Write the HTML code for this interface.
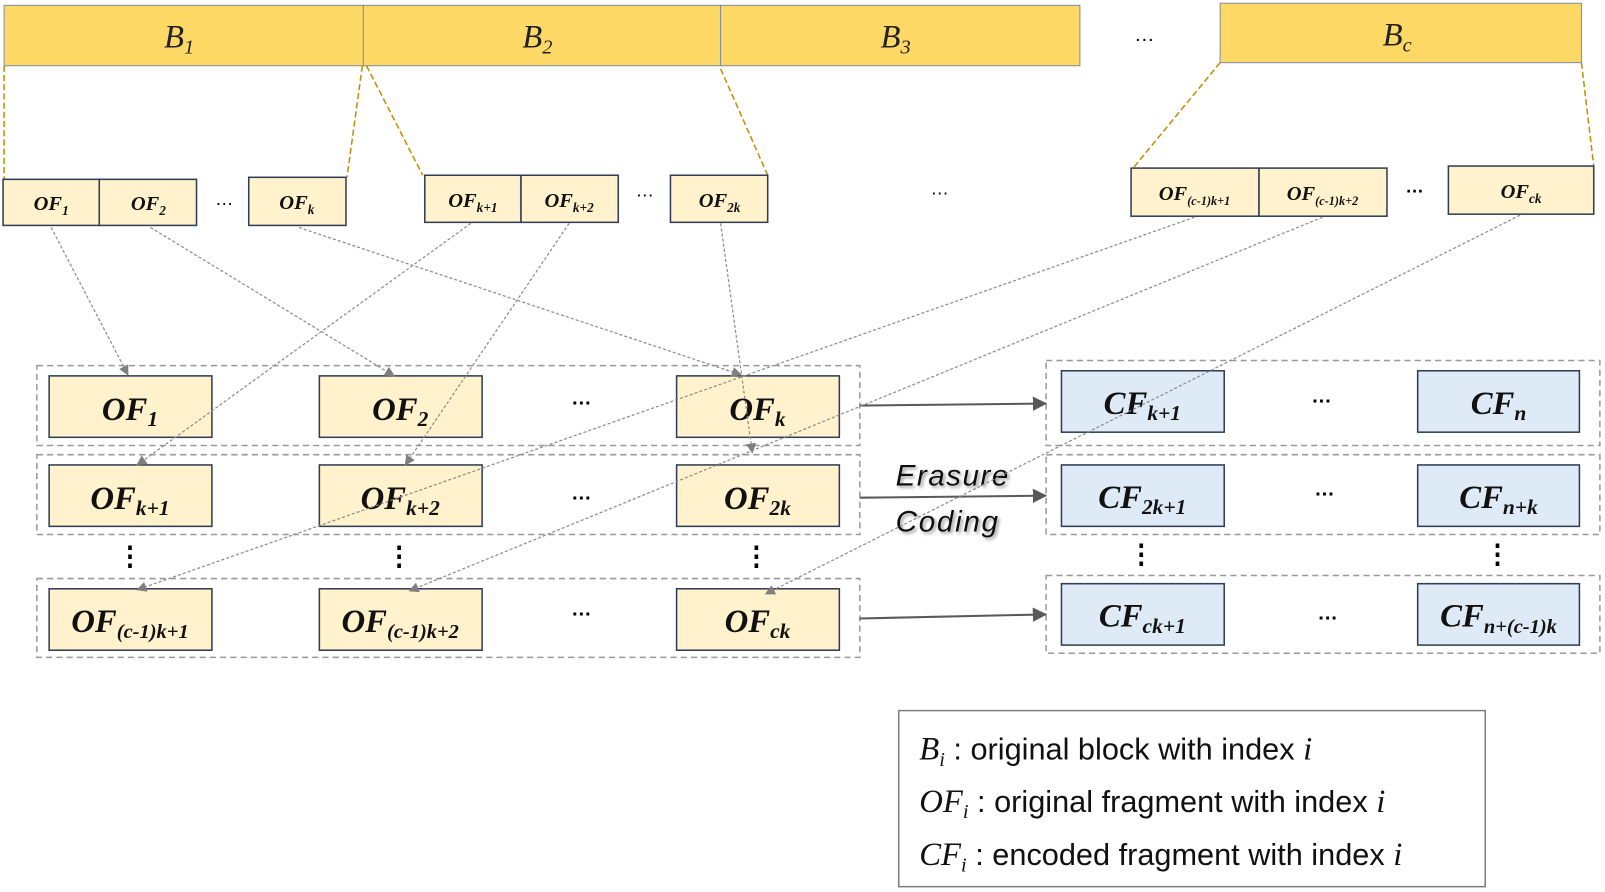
<!DOCTYPE html>
<html><head><meta charset="utf-8"><style>
html,body{margin:0;padding:0;background:#fff}
svg{display:block}
.b{font-family:"Liberation Serif",serif;font-style:italic}
.s{font-family:"Liberation Serif",serif;font-style:italic;font-weight:bold}
.l{font-family:"Liberation Sans",sans-serif}
</style></head><body>
<svg width="1605" height="892" viewBox="0 0 1568 871" xmlns="http://www.w3.org/2000/svg">
<defs>
<marker id="ag" markerWidth="10" markerHeight="10" refX="9" refY="5" orient="auto" markerUnits="userSpaceOnUse"><path d="M0,0 L10,5 L0,10 z" fill="#7f7f7f"/></marker>
<marker id="ad" markerWidth="14" markerHeight="14" refX="13" refY="7" orient="auto" markerUnits="userSpaceOnUse"><path d="M0,0 L14,7 L0,14 z" fill="#595959"/></marker>
<filter id="sh"><feDropShadow dx="2" dy="2" stdDeviation="1.5" flood-color="#999"/></filter>
</defs>
<g fill="#FFD966" stroke="#7f8ea3" stroke-width="1">
<rect x="4" y="5" width="351" height="59"/><rect x="355" y="5" width="349" height="59"/><rect x="704" y="5" width="351" height="59"/><rect x="1192" y="3" width="353" height="58"/>
</g>
<g class="b" font-size="32" text-anchor="middle" fill="#222">
<text x="175" y="46">B<tspan font-size="20" dy="6">1</tspan></text>
<text x="525" y="46">B<tspan font-size="20" dy="6">2</tspan></text>
<text x="875" y="46">B<tspan font-size="20" dy="6">3</tspan></text>
<text x="1365" y="44">B<tspan font-size="20" dy="6">c</tspan></text>
</g>
<text x="1118" y="40" font-size="20" text-anchor="middle" class="l">…</text>
<g stroke="#C09000" stroke-width="1.5" stroke-dasharray="6,3" fill="none">
<line x1="4" y1="64" x2="4" y2="175"/><line x1="354" y1="64" x2="339" y2="173"/><line x1="358" y1="64" x2="413" y2="171"/><line x1="704" y1="67" x2="750" y2="171"/><line x1="1192" y1="61" x2="1107" y2="164"/><line x1="1545" y1="61" x2="1557" y2="162"/>
</g>
<g fill="#FFF2CC" stroke="#2F3E55" stroke-width="1.5">
<rect x="3" y="175" width="94" height="45"/><rect x="97" y="175" width="95" height="45"/><rect x="243" y="173" width="95" height="47"/>
<rect x="415" y="171" width="94" height="46"/><rect x="509" y="171" width="95" height="46"/><rect x="655" y="171" width="95" height="46"/>
<rect x="1105" y="164" width="125" height="47"/><rect x="1230" y="164" width="125" height="47"/><rect x="1415" y="162" width="142" height="47"/>
</g>
<g class="s" font-size="20" text-anchor="middle" fill="#111">
<text x="50" y="205">OF<tspan font-size="13" dy="5">1</tspan></text>
<text x="145" y="205">OF<tspan font-size="13" dy="5">2</tspan></text>
<text x="290" y="204">OF<tspan font-size="13" dy="5">k</tspan></text>
<text x="462" y="202">OF<tspan font-size="13" dy="5">k+1</tspan></text>
<text x="556" y="202">OF<tspan font-size="13" dy="5">k+2</tspan></text>
<text x="703" y="202">OF<tspan font-size="13" dy="5">2k</tspan></text>
<text x="1167" y="195">OF<tspan font-size="12" dy="5">(c-1)k+1</tspan></text>
<text x="1292" y="195">OF<tspan font-size="12" dy="5">(c-1)k+2</tspan></text>
<text x="1486" y="193">OF<tspan font-size="13" dy="5">ck</tspan></text>
</g>
<g class="l" font-size="18" text-anchor="middle"><text x="219" y="200">…</text><text x="630" y="192">…</text><text x="918" y="190">…</text><text x="1382" y="188" font-weight="bold">…</text></g>
<g fill="none" stroke="#999" stroke-width="1.5" stroke-dasharray="6,4">
<rect x="36" y="357" width="804" height="78"/><rect x="36" y="444" width="804" height="78"/><rect x="36" y="565" width="804" height="77"/>
<rect x="1022" y="352" width="541" height="83"/><rect x="1022" y="444" width="541" height="78"/><rect x="1022" y="562" width="541" height="76"/>
</g>
<g fill="#FFF2CC" stroke="#2F3E55" stroke-width="1.5">
<rect x="48" y="367" width="159" height="60"/><rect x="312" y="367" width="159" height="60"/><rect x="661" y="367" width="159" height="60"/>
<rect x="48" y="454" width="159" height="60"/><rect x="312" y="454" width="159" height="60"/><rect x="661" y="454" width="159" height="60"/>
<rect x="48" y="575" width="159" height="60"/><rect x="312" y="575" width="159" height="60"/><rect x="661" y="575" width="159" height="60"/>
</g>
<g fill="#DEEBF7" stroke="#2F3E55" stroke-width="1.5">
<rect x="1037" y="362" width="159" height="60"/><rect x="1385" y="362" width="158" height="60"/>
<rect x="1037" y="454" width="159" height="60"/><rect x="1385" y="454" width="158" height="60"/>
<rect x="1037" y="570" width="159" height="60"/><rect x="1385" y="570" width="158" height="60"/>
</g>
<g class="s" font-size="32" text-anchor="middle" fill="#111">
<text x="127" y="410">OF<tspan font-size="21" dy="6">1</tspan></text>
<text x="391" y="410">OF<tspan font-size="21" dy="6">2</tspan></text>
<text x="740" y="410">OF<tspan font-size="21" dy="6">k</tspan></text>
<text x="127" y="497">OF<tspan font-size="21" dy="6">k+1</tspan></text>
<text x="391" y="497">OF<tspan font-size="21" dy="6">k+2</tspan></text>
<text x="740" y="497">OF<tspan font-size="21" dy="6">2k</tspan></text>
<text x="127" y="617">OF<tspan font-size="20" dy="6">(c-1)k+1</tspan></text>
<text x="391" y="617">OF<tspan font-size="20" dy="6">(c-1)k+2</tspan></text>
<text x="740" y="617">OF<tspan font-size="21" dy="6">ck</tspan></text>
<text x="1116" y="404">CF<tspan font-size="21" dy="6">k+1</tspan></text>
<text x="1464" y="404">CF<tspan font-size="21" dy="6">n</tspan></text>
<text x="1116" y="496">CF<tspan font-size="21" dy="6">2k+1</tspan></text>
<text x="1464" y="496">CF<tspan font-size="21" dy="6">n+k</tspan></text>
<text x="1116" y="612">CF<tspan font-size="21" dy="6">ck+1</tspan></text>
<text x="1464" y="612">CF<tspan font-size="20" dy="6">n+(c-1)k</tspan></text>
</g>
<g class="l" font-size="20" text-anchor="middle" font-weight="bold">
<text x="568" y="395">…</text><text x="568" y="488">…</text><text x="568" y="601">…</text>
<text x="1291" y="393">…</text><text x="1294" y="484">…</text><text x="1297" y="605">…</text>
</g>
<g class="l" font-size="26" text-anchor="middle" font-weight="bold">
<text x="127" y="552">⋮</text><text x="390" y="552">⋮</text><text x="739" y="552">⋮</text><text x="1115" y="550">⋮</text><text x="1463" y="550">⋮</text>
</g>
<g stroke="#595959" stroke-width="2" marker-end="url(#ad)">
<line x1="840" y1="396" x2="1022" y2="394"/><line x1="840" y1="486" x2="1022" y2="484"/><line x1="840" y1="604" x2="1022" y2="600"/>
</g>
<g class="l" font-size="29" font-style="italic" fill="#111" filter="url(#sh)"><text x="875" y="474" textLength="110">Erasure</text><text x="875" y="519" textLength="100">Coding</text></g>
<g stroke="#8c8c8c" stroke-width="1.2" stroke-dasharray="3,2" fill="none" marker-end="url(#ag)">
<line x1="50" y1="222" x2="125" y2="366"/>
<line x1="147" y1="222" x2="385" y2="367"/>
<line x1="292" y1="222" x2="724" y2="366"/>
<line x1="460" y1="218" x2="134" y2="454"/>
<line x1="556" y1="218" x2="396" y2="454"/>
<line x1="704" y1="218" x2="735" y2="442"/>
<line x1="1167" y1="212" x2="134" y2="576"/>
<line x1="1292" y1="212" x2="400" y2="577"/>
<line x1="1485" y1="210" x2="748" y2="580"/>
</g>
<rect x="878" y="694" width="573" height="172" fill="#fff" stroke="#7f7f7f" stroke-width="1.5"/>
<g font-size="30" fill="#111">
<text x="898" y="742"><tspan class="b" font-size="32">B</tspan><tspan class="b" font-size="20" dy="6">i</tspan><tspan class="l" dy="-6"> : original block with index </tspan><tspan class="b" font-size="32">i</tspan></text>
<text x="898" y="793"><tspan class="b" font-size="32">OF</tspan><tspan class="b" font-size="20" dy="6">i</tspan><tspan class="l" dy="-6"> : original fragment with index </tspan><tspan class="b" font-size="32">i</tspan></text>
<text x="898" y="845"><tspan class="b" font-size="32">CF</tspan><tspan class="b" font-size="20" dy="6">i</tspan><tspan class="l" dy="-6"> : encoded fragment with index </tspan><tspan class="b" font-size="32">i</tspan></text>
</g>
</svg>
</body></html>
